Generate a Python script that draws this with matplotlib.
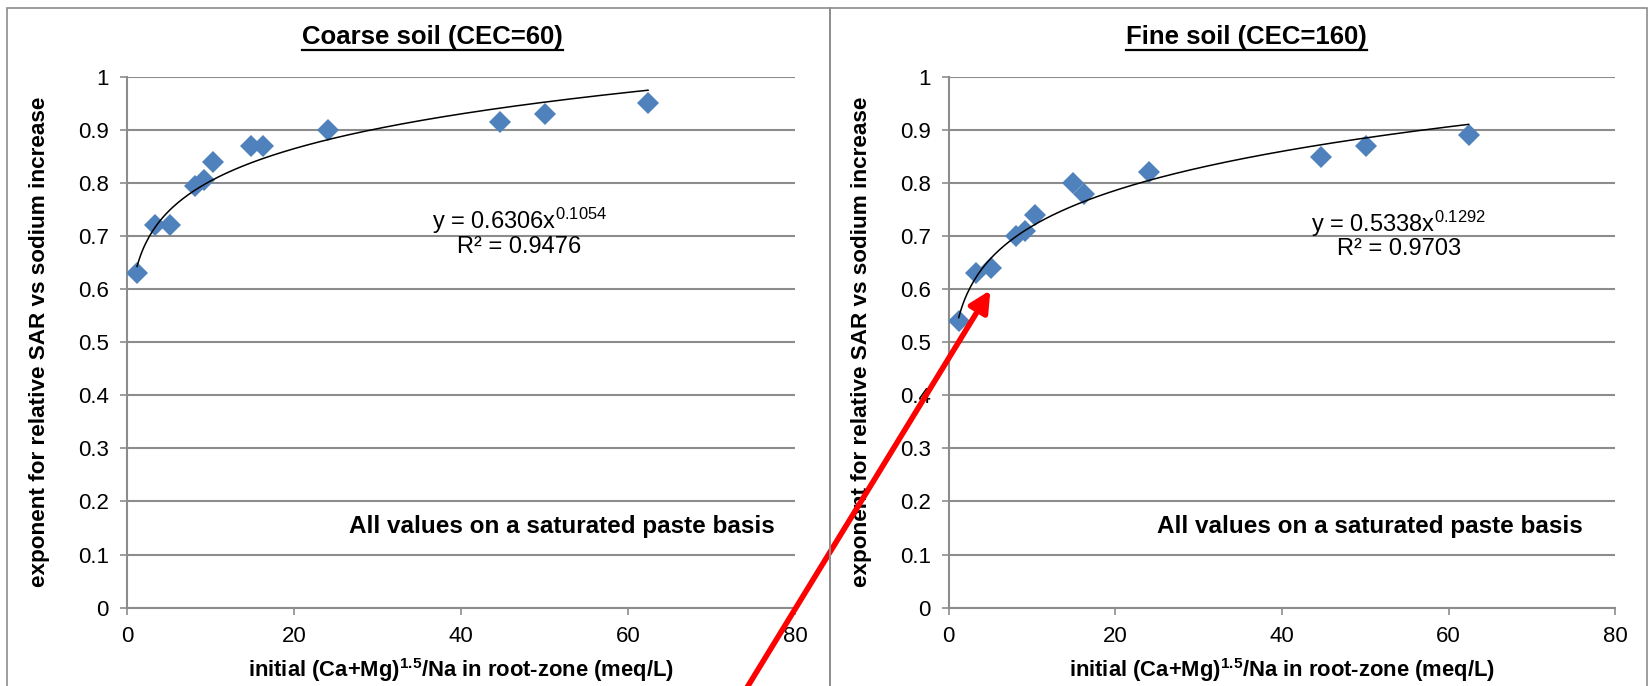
"""
Two-panel chart: exponent for relative SAR vs sodium increase against
initial (Ca+Mg)^1.5/Na, for coarse (CEC=60) and fine (CEC=160) soil,
with power-law trendlines. Saves out.png.
"""

import numpy as np
import matplotlib
matplotlib.use('Agg')
import matplotlib.pyplot as plt
from matplotlib.lines import Line2D
from matplotlib.patches import Rectangle
from matplotlib.ticker import FuncFormatter

# ---------------------------------------------------------------------------
# Data
# ---------------------------------------------------------------------------
initial_ratio = [1.2, 3.3, 5.1, 8.1, 9.2, 10.3, 14.9, 16.3, 24.1, 44.7, 50.1, 62.4]
coarse_exponent = [0.63, 0.72, 0.72, 0.795, 0.805, 0.84, 0.87, 0.87, 0.90, 0.915, 0.93, 0.95]
fine_exponent = [0.54, 0.63, 0.64, 0.70, 0.71, 0.74, 0.80, 0.78, 0.82, 0.85, 0.87, 0.89]

# power trendline y = a * x^b, as printed on the chart
coarse_fit = (0.6306, 0.1054, 0.9476)
fine_fit = (0.5338, 0.1292, 0.9703)

panel_titles = ['Coarse soil (CEC=60)', 'Fine soil (CEC=160)']
note_text = 'All values on a saturated paste basis'
xlabel_text = r'initial (Ca+Mg)$^{\mathbf{1.5}}$/Na in root-zone (meq/L)'
ylabel_text = 'exponent for relative SAR vs sodium increase'
x_ticks = [0, 20, 40, 60, 80]
y_ticks = [0, 0.1, 0.2, 0.3, 0.4, 0.5, 0.6, 0.7, 0.8, 0.9, 1]

# Colors
COLOR_POINTS = '#4F81BD'
COLOR_GRID = '#8C8C8C'
COLOR_BORDER = '#8C8C8C'
COLOR_ARROW = '#FF0000'

plt.rcParams['font.family'] = ['Liberation Sans', 'DejaVu Sans']
plt.rcParams['mathtext.fontset'] = 'custom'
plt.rcParams['mathtext.rm'] = 'Liberation Sans'
plt.rcParams['mathtext.bf'] = 'Liberation Sans:bold'
plt.rcParams['mathtext.default'] = 'regular'

W, H = 1651, 686
fig = plt.figure(figsize=(W / 100, H / 100), dpi=100)

# chart borders (the two Excel chart frames)
for x0, x1 in [(7, 830), (830, 1647)]:
    fig.add_artist(Rectangle((x0 / W, -0.05), (x1 - x0) / W, 1.05 - 8 / H,
                             transform=fig.transFigure, fill=False,
                             edgecolor=COLOR_BORDER, linewidth=1.2))

ax_left = fig.add_axes([127 / W, 1 - 607.6 / H, 668 / W, 530.7 / H])
ax_right = fig.add_axes([948.7 / W, 1 - 607.6 / H, 666.5 / W, 530.7 / H])


def draw_panel(ax, y_vals, fit, eq_xy, note_x):
    a, b, r2 = fit
    ax.set_axisbelow(True)
    ax.yaxis.grid(True, color=COLOR_GRID, linewidth=1.5)
    ax.xaxis.grid(False)

    ax.plot(initial_ratio, y_vals, 'D', color=COLOR_POINTS, markersize=11,
            markeredgewidth=0, zorder=3)

    x_fit = np.linspace(min(initial_ratio), max(initial_ratio), 300)
    ax.plot(x_fit, a * x_fit ** b, color='black', linewidth=1.1, zorder=4)

    ax.text(eq_xy[0], eq_xy[1], f'y = {a:.4f}x$^{{{b:.4f}}}$\nR² = {r2:.4f}',
            ha='center', va='center', fontsize=17, linespacing=0.95, zorder=5)
    ax.text(note_x, 0.152, note_text, ha='center', va='center',
            fontsize=17.5, fontweight='bold')

    ax.set_xlim(0, 80)
    ax.set_ylim(0, 1)
    ax.set_xticks(x_ticks)
    ax.set_yticks(y_ticks)
    ax.yaxis.set_major_formatter(FuncFormatter(lambda v, p: f'{v:g}'))
    ax.tick_params(axis='both', direction='out', length=5, width=1.2,
                   color=COLOR_GRID, labelsize=16, pad=8)

    for side in ['top', 'right']:
        ax.spines[side].set_visible(False)
    for side in ['left', 'bottom']:
        ax.spines[side].set_color(COLOR_GRID)
        ax.spines[side].set_linewidth(1.5)

    ax.set_xlabel(xlabel_text, fontsize=15.8, fontweight='bold')
    ax.set_ylabel(ylabel_text, fontsize=16.2, fontweight='bold')
    ax.xaxis.label.set_va('center')
    ax.yaxis.label.set_va('center')
    ax.xaxis.set_label_coords(0.5, -0.118)
    ax.yaxis.set_label_coords(-0.131, 0.5)


draw_panel(ax_left, coarse_exponent, coarse_fit, (47.0, 0.708), 52.1)
draw_panel(ax_right, fine_exponent, fine_fit, (54.0, 0.703), 50.5)

# panel titles, underlined
titles = []
for title, cx in zip(panel_titles, [432.5, 1246.5]):
    titles.append(fig.text(cx / W, 1 - 37 / H, title, ha='center', va='center',
                           fontsize=18.5, fontweight='bold'))
fig.canvas.draw()
renderer = fig.canvas.get_renderer()
for t in titles:
    bb = t.get_window_extent(renderer)
    yline = (bb.y0 - 1) / H
    fig.add_artist(Line2D([bb.x0 / W, bb.x1 / W], [yline, yline],
                          transform=fig.transFigure, color='black', linewidth=1.6))

# red arrow pointing at the fine soil low-ratio points
ax_right.annotate('', xy=(5.0, 0.598), xycoords='data',
                  xytext=(739.4 / W, -0.0204), textcoords='figure fraction',
                  arrowprops=dict(arrowstyle='-|>,head_length=0.9,head_width=0.45',
                                  color=COLOR_ARROW, linewidth=4, mutation_scale=14,
                                  shrinkA=0, shrinkB=0),
                  annotation_clip=False, zorder=10)

fig.savefig('out.png', dpi=100)
